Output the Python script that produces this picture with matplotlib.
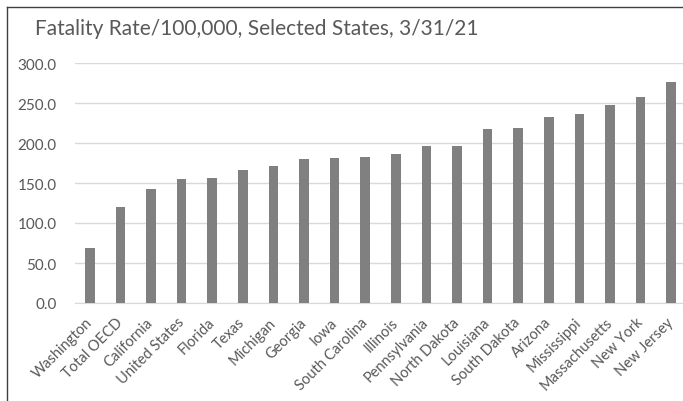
import matplotlib.pyplot as plt
from matplotlib.lines import Line2D

# fatality rate per 100,000 as of 3/31/21
states = ['Washington', 'Total OECD', 'California', 'United States', 'Florida',
          'Texas', 'Michigan', 'Georgia', 'Iowa', 'South Carolina', 'Illinois',
          'Pennsylvania', 'North Dakota', 'Louisiana', 'South Dakota', 'Arizona',
          'Mississippi', 'Massachusetts', 'New York', 'New Jersey']
rates = [68.5, 120.0, 142.0, 155.0, 156.0, 166.5, 171.5, 179.5, 181.5, 183.0,
         186.5, 196.0, 196.5, 218.0, 218.5, 233.0, 236.0, 248.0, 258.0, 276.0]
yticks = [0, 50, 100, 150, 200, 250, 300]

W, H = 683, 402
fig = plt.figure(figsize=(W / 100, H / 100), dpi=100)
plt.rcParams['font.family'] = ['Lato', 'DejaVu Sans']

# chart border (only left and top edges fall inside the image)
fig.add_artist(Line2D([6.5 / W, 6.5 / W], [0, 1 - 8 / H], color='#3f3f3f', lw=1.0))
fig.add_artist(Line2D([6.5 / W, 1], [1 - 8 / H, 1 - 8 / H], color='#3f3f3f', lw=1.0))

ax = fig.add_axes([74.5 / W, 1 - 304 / H, 612 / W, 240 / H])
x = range(len(states))
ax.bar(x, rates, width=0.32, color='#808080', zorder=3)
ax.set_xlim(-0.5, len(states) - 0.5)
ax.set_ylim(0, 300)
ax.set_yticks(yticks)
ax.set_yticklabels(['%.1f' % v for v in yticks], fontsize=11, color='#595959')
ax.yaxis.grid(True, color='#d9d9d9', lw=1.0, zorder=0)
ax.tick_params(axis='y', length=0, pad=13)
ax.tick_params(axis='x', length=0, pad=12)
ax.set_xticks(list(x))
ax.set_xticklabels(states, rotation=45, ha='right', va='center',
                   rotation_mode='anchor', fontsize=10.5, color='#595959')
for s in ['top', 'right', 'left']:
    ax.spines[s].set_visible(False)
ax.spines['bottom'].set_color('#d9d9d9')

fig.text(35 / W, 1 - 29 / H, 'Fatality Rate/100,000, Selected States, 3/31/21',
         fontsize=15, color='#595959', va='center', ha='left')

fig.savefig('out.png', dpi=100)
